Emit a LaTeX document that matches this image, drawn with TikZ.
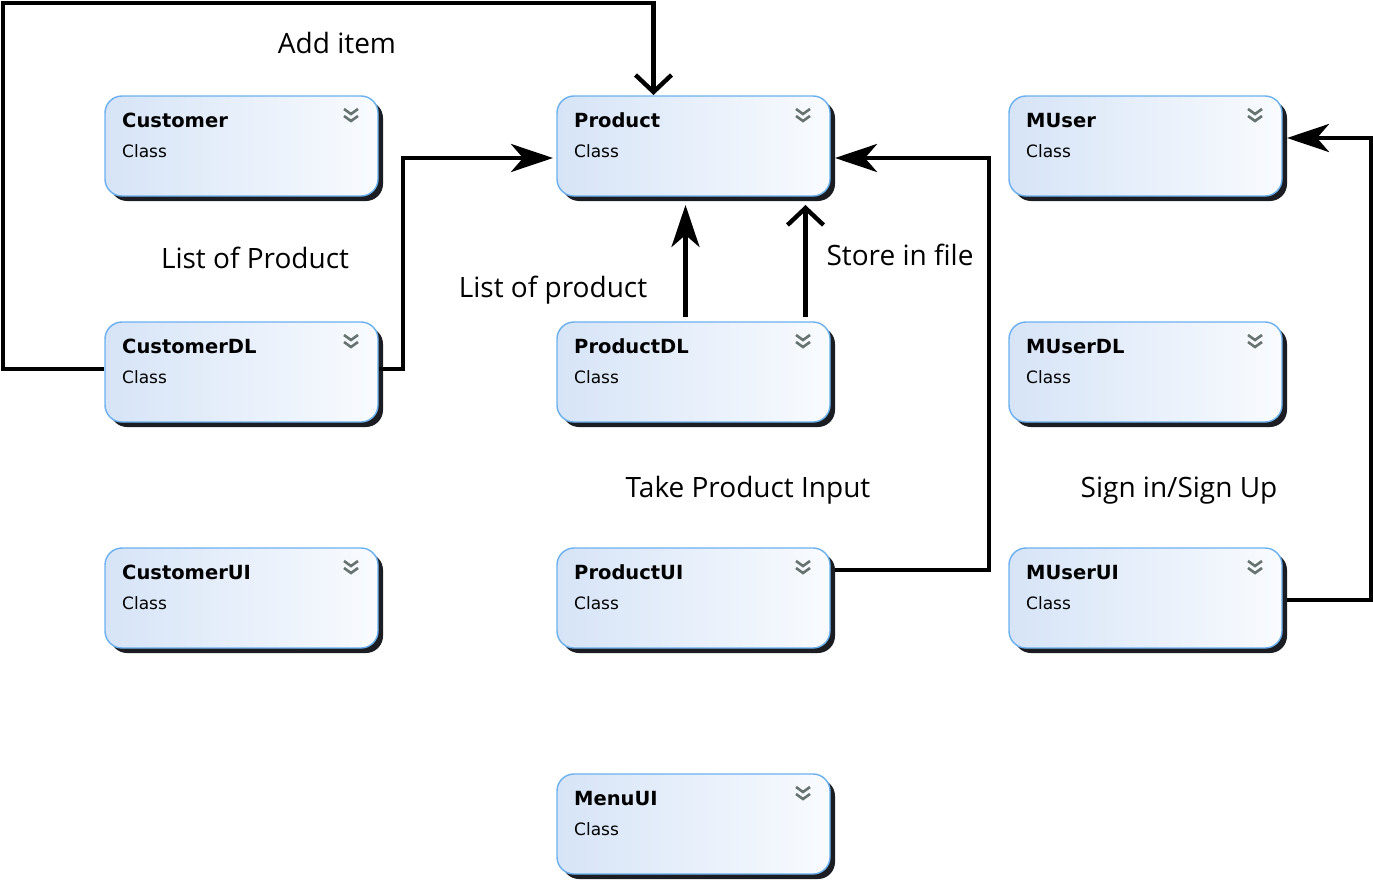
\documentclass[tikz,border=0pt]{standalone}
\usepackage{fontspec}
\setmainfont{Open Sans}
\newfontfamily\boxfont{DejaVu Sans}
\usetikzlibrary{arrows.meta,shadows,calc}
\definecolor{boxleft}{HTML}{D6E4F7}
\definecolor{boxright}{HTML}{F9FBFE}
\definecolor{boxborder}{HTML}{6AB0EE}
\definecolor{shadowc}{HTML}{1B1D22}
\definecolor{chevc}{HTML}{66736F}
\tikzset{
  cls/.style={draw=boxborder, line width=1.4pt, rounded corners=17pt,
    minimum width=273pt, minimum height=100pt, inner sep=0pt, outer sep=1pt,
    left color=boxleft, right color=boxright,
    drop shadow={shadow xshift=5pt, shadow yshift=-5pt, opacity=1, fill=shadowc}},
  ttl/.style={font=\boxfont\bfseries\fontsize{19.5}{21}\selectfont, inner sep=0pt, anchor=base west},
  sub/.style={font=\boxfont\fontsize{17}{19}\selectfont, inner sep=0pt, anchor=base west},
  chev/.style={draw=chevc, line width=2.6pt},
  lbl/.style={font=\fontsize{28}{32}\selectfont, inner sep=0pt, anchor=base},
  conn/.style={draw=black, line width=4.4pt},
  filled/.style={conn, -{Stealth[length=42pt, width=28pt, inset=12pt]}},
  openarr/.style={conn, -{Straight Barb[length=17pt, width=36pt]}}
}
\newcommand\classbox[3]{%
  \node[cls] (#1) at (#2) {};
  \node[ttl] (#1t) at ($(#1.north west)+(18,32)$) {#3};
  \node[sub] (#1s) at ($(#1.north west)+(18,62)$) {Class};
  \draw[chev] ($(#1.north east)+(-35,14)$) -- ++(7,5) -- ++(7,-5);
  \draw[chev] ($(#1.north east)+(-35,21)$) -- ++(7,5) -- ++(7,-5);
}
\begin{document}
\begin{tikzpicture}[x=1pt, y=-1pt]
\useasboundingbox (0,0) rectangle (1373,891);
\classbox{Customer}{241.5,146}{Customer}
\classbox{CustomerDL}{241.5,372}{CustomerDL}
\classbox{CustomerUI}{241.5,598}{CustomerUI}
\classbox{Product}{693.5,146}{Product}
\classbox{ProductDL}{693.5,372}{ProductDL}
\classbox{ProductUI}{693.5,598}{ProductUI}
\classbox{MenuUI}{693.5,824}{MenuUI}
\classbox{MUser}{1145.5,146}{MUser}
\classbox{MUserDL}{1145.5,372}{MUserDL}
\classbox{MUserUI}{1145.5,598}{MUserUI}

\coordinate (tl) at (3,3);
% Add item
\draw[openarr] ($(CustomerDL.west)+(0,-3)$) -| (tl) -| ($(Product.north)+(-40,0)$);
% List of Product
\draw[filled] ($(CustomerDL.east)+(0,-3)$) -- ++(24,0) |- ($(Product.west)+(-3,12)$);
% List of product
\draw[filled] ($(ProductDL.north)+(-8,-4)$) -- ($(Product.south)+(-8,8)$);
% Store in file
\draw[openarr] ($(ProductDL.north)+(112,-4)$) -- ($(Product.south)+(112,8)$);
% Take Product Input
\draw[filled] ($(ProductUI.east)+(4,-28)$) -- ++(154,0) |- ($(Product.east)+(4,12)$);
% Sign in/Sign Up
\draw[filled] ($(MUserUI.east)+(4,2)$) -- ++(84,0) |- ($(MUser.east)+(4,-8)$);

\node[lbl] (l1) at (337,53) {Add item};
\node[lbl] (l2) at (255,268) {List of Product};
\node[lbl] (l3) at (553,297) {List of product};
\node[lbl] (l4) at (900,265) {Store in file};
\node[lbl] (l5) at (748,497) {Take Product Input};
\node[lbl] (l6) at (1179,497) {Sign in/Sign Up};
\end{tikzpicture}
\end{document}
